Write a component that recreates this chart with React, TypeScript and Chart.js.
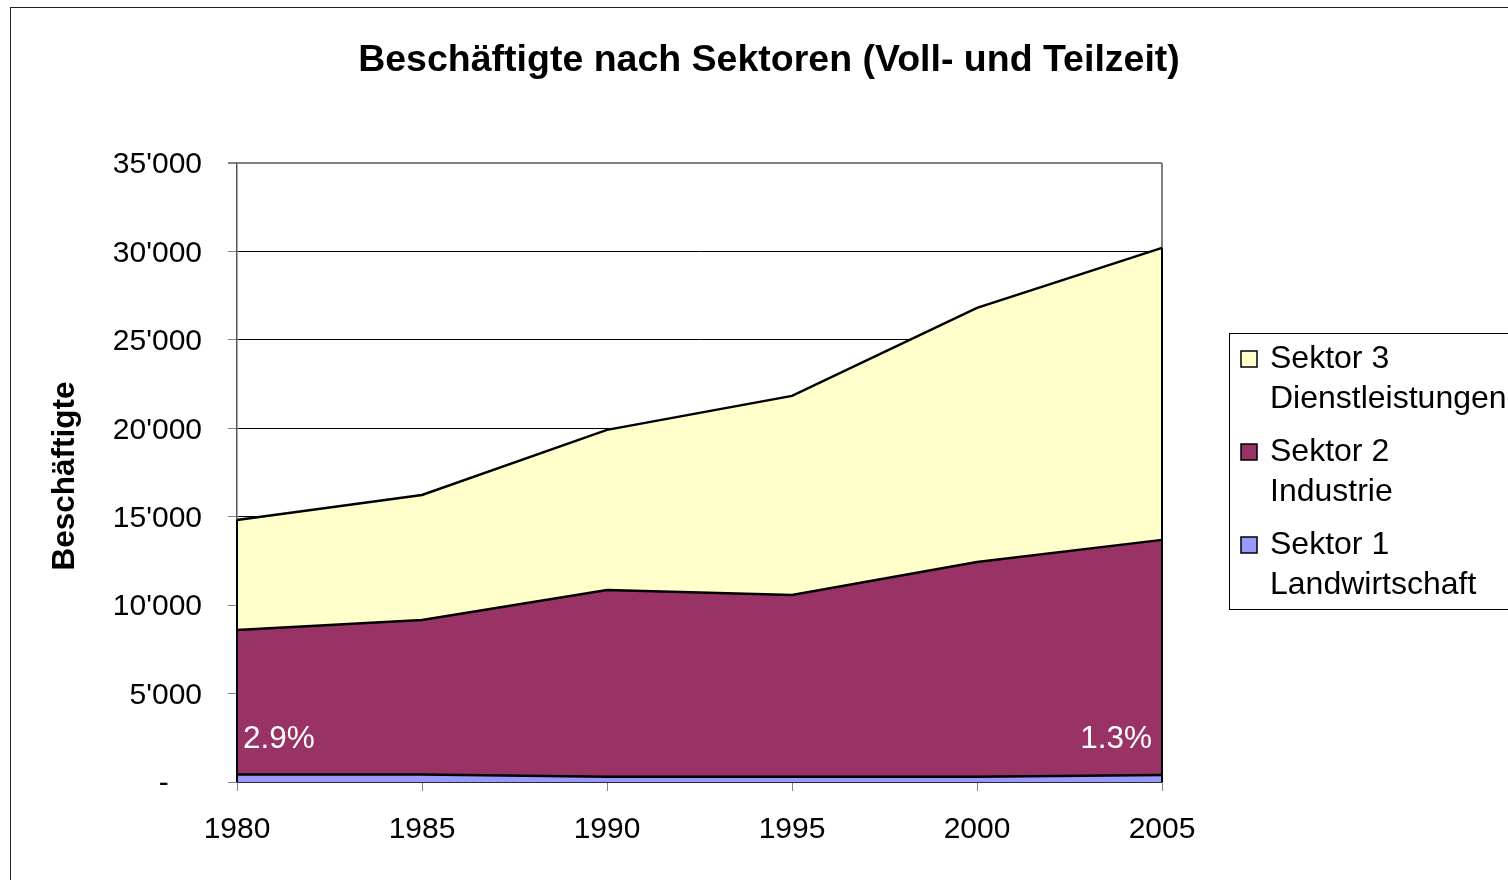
import React, { useEffect, useRef } from "react";
import { Chart, registerables } from "chart.js";

Chart.register(...registerables);

const years = ["1980", "1985", "1990", "1995", "2000", "2005"];
const sektor1 = [430, 420, 300, 290, 290, 390];
const sektor2 = [8170, 8740, 10560, 10290, 12150, 13300];
const sektor3 = [6220, 7070, 9050, 11250, 14370, 16510];
const seriesNames = [
  ["Sektor 3", "Dienstleistungen"],
  ["Sektor 2", "Industrie"],
  ["Sektor 1", "Landwirtschaft"],
];
const seriesColors = ["#FFFFCC", "#993366", "#9999FF"];
const shareLabels = ["2.9%", "1.3%"];
const titleText = "Beschäftigte nach Sektoren (Voll- und Teilzeit)";
const yTitle = "Beschäftigte";

const FONT = "'Liberation Sans', Arial, sans-serif";

function fmt(v: number): string {
  if (v === 0) return "-    ";
  const th = Math.floor(v / 1000);
  const rest = String(v % 1000).padStart(3, "0");
  return `${th}'${rest}`;
}

const decor = {
  id: "decor",
  beforeDraw(chart: any) {
    const ctx = chart.ctx;
    ctx.save();
    ctx.fillStyle = "#fff";
    ctx.fillRect(0, 0, chart.width, chart.height);
    ctx.strokeStyle = "#222";
    ctx.lineWidth = 1;
    ctx.strokeRect(10.5, 7.5, chart.width + 20, chart.height + 20);
    // title
    ctx.fillStyle = "#000";
    ctx.font = `bold 37.5px ${FONT}`;
    ctx.textAlign = "center";
    ctx.textBaseline = "middle";
    ctx.fillText(titleText, 769, 61);
    // y title
    ctx.save();
    ctx.translate(65, 476);
    ctx.rotate(-Math.PI / 2);
    ctx.font = `bold 31.5px ${FONT}`;
    ctx.fillText(yTitle, 0, 0);
    ctx.restore();
    // legend
    ctx.strokeStyle = "#000";
    ctx.lineWidth = 1;
    ctx.strokeRect(1229.5, 333.5, 320, 276);
    ctx.font = `32px ${FONT}`;
    ctx.textAlign = "left";
    for (let i = 0; i < seriesNames.length; i++) {
      const y0 = 359 + i * 93;
      ctx.fillStyle = seriesColors[i];
      ctx.fillRect(1241, y0 - 8, 16, 16);
      ctx.strokeStyle = "#000";
      ctx.lineWidth = 1.5;
      ctx.strokeRect(1241, y0 - 8, 16, 16);
      ctx.fillStyle = "#000";
      ctx.fillText(seriesNames[i][0], 1270, y0);
      ctx.fillText(seriesNames[i][1], 1270, y0 + 40);
    }
    ctx.restore();
  },
  beforeDatasetsDraw(chart: any) {
    const ctx = chart.ctx;
    const a = chart.chartArea;
    ctx.save();
    ctx.strokeStyle = "#808080";
    ctx.lineWidth = 2;
    ctx.beginPath();
    ctx.moveTo(a.right, a.top);
    ctx.lineTo(a.right, a.bottom);
    ctx.stroke();
    ctx.restore();
  },
  afterDatasetsDraw(chart: any) {
    const ctx = chart.ctx;
    const xs = chart.scales.x;
    const ys = chart.scales.y;
    const n = years.length - 1;
    ctx.save();
    ctx.strokeStyle = "#000";
    ctx.lineWidth = 2;
    for (const i of [0, n]) {
      const tot = sektor1[i] + sektor2[i] + sektor3[i];
      const x = xs.getPixelForValue(i);
      ctx.beginPath();
      ctx.moveTo(x, ys.getPixelForValue(tot));
      ctx.lineTo(x, ys.getPixelForValue(0));
      ctx.stroke();
    }
    ctx.fillStyle = "#fff";
    ctx.font = `31.5px ${FONT}`;
    ctx.textBaseline = "middle";
    ctx.textAlign = "left";
    ctx.fillText(shareLabels[0], xs.getPixelForValue(0) + 6, 739);
    ctx.textAlign = "right";
    ctx.fillText(shareLabels[1], xs.getPixelForValue(n) - 10, 739);
    ctx.restore();
  },
};

export default function App() {
  const ref = useRef<HTMLCanvasElement>(null);
  useEffect(() => {
    if (!ref.current) return;
    const chart = new Chart(ref.current, {
      type: "line",
      data: {
        labels: years,
        datasets: [
          {
            label: "Sektor 1 Landwirtschaft",
            data: sektor1,
            backgroundColor: seriesColors[2],
            borderColor: "#000",
            borderWidth: 2.5,
            fill: "origin",
            pointRadius: 0,
            tension: 0,
          },
          {
            label: "Sektor 2 Industrie",
            data: sektor2,
            backgroundColor: seriesColors[1],
            borderColor: "#000",
            borderWidth: 2.5,
            fill: "-1",
            pointRadius: 0,
            tension: 0,
          },
          {
            label: "Sektor 3 Dienstleistungen",
            data: sektor3,
            backgroundColor: seriesColors[0],
            borderColor: "#000",
            borderWidth: 2.5,
            fill: "-1",
            pointRadius: 0,
            tension: 0,
          },
        ],
      },
      options: {
        responsive: false,
        animation: false,
        layout: { padding: { left: 0, top: 163, right: 346, bottom: 0 } },
        plugins: {
          legend: { display: false },
          title: { display: false },
          tooltip: { enabled: false },
        },
        scales: {
          x: {
            stacked: true,
            offset: false,
            afterFit: (s: any) => {
              s.height = 98;
            },
            grid: {
              drawOnChartArea: false,
              drawTicks: true,
              tickLength: 9,
              tickColor: "#808080",
              offset: false,
            },
            border: { display: true, color: "#555", width: 1.5 },
            ticks: {
              color: "#000",
              font: { family: FONT, size: 30 },
              padding: 21,
              maxRotation: 0,
              autoSkip: false,
            },
          },
          y: {
            stacked: true,
            min: 0,
            max: 35000,
            afterFit: (s: any) => {
              s.width = 237;
            },
            grid: {
              color: (c: any) => (c.tick && c.tick.value === 35000 ? "#808080" : "#000"),
              lineWidth: (c: any) => (c.tick && c.tick.value === 35000 ? 2 : 1),
              drawTicks: true,
              tickLength: 9,
              tickColor: "#808080",
            },
            border: { display: true, color: "#555", width: 1.5 },
            ticks: {
              stepSize: 5000,
              color: "#000",
              font: { family: FONT, size: 30 },
              padding: 26,
              labelOffset: 2,
              callback: (v: any) => fmt(Number(v)),
            },
          },
        },
      },
      plugins: [decor],
    });
    return () => chart.destroy();
  }, []);
  return (
    <div style={{ position: "fixed", left: 0, top: 0, width: 1508, height: 880 }}>
      <canvas ref={ref} width={1508} height={880} style={{ width: 1508, height: 880, display: "block" }} />
    </div>
  );
}
